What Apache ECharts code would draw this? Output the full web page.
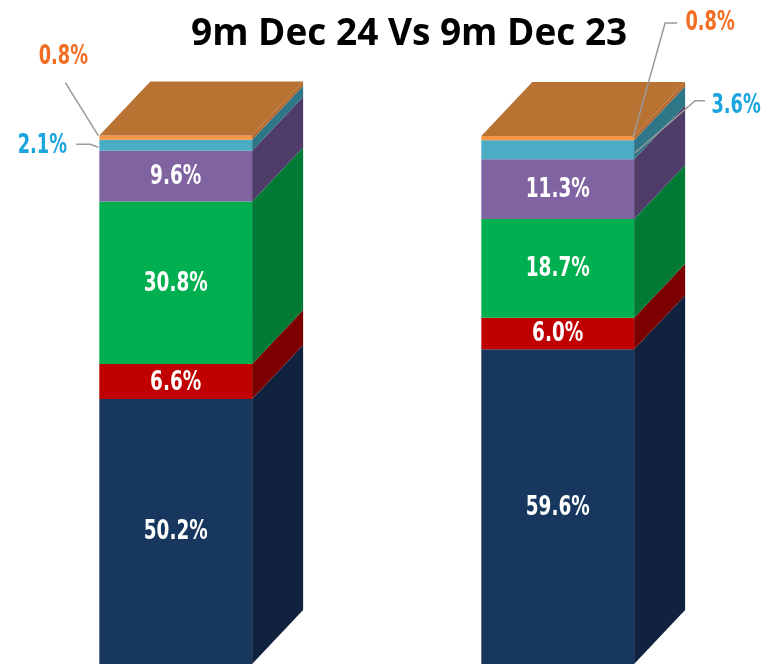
<!DOCTYPE html>
<html>
<head>
<meta charset="utf-8">
<script src="https://cdn.jsdelivr.net/npm/echarts@6/dist/echarts.min.js"></script>
<style>
  html, body { margin: 0; padding: 0; background: #fff; }
  #chart { width: 764px; height: 664px; }
</style>
</head>
<body>
<div id="chart"></div>
<script>
// periods shown as the two stacked columns
const categories = ['9m Dec 24', '9m Dec 23']

// share of each layer (%), bottom to top
const navyShare = [50.2, 59.6]
const redShare = [6.6, 6.0]
const greenShare = [30.8, 18.7]
const purpleShare = [9.6, 11.3]
const cyanShare = [2.1, 3.6]
const orangeShare = [0.8, 0.8]

// 3D look: depth offset of the side/top faces in px
const DX = 51
const DY = -54
const BAR_RATIO = 0.4
const TEXT_SQUEEZE = 0.76

const labelFont = "'Liberation Sans Narrow', 'DejaVu Sans Condensed', 'DejaVu Sans', sans-serif"

// small callout labels (offsets from the bar edge, at the middle of the layer)
const callouts = {
  cyan: [
    { edge: 'left', text: [-57, 1], line: [[-23, -1], [-9, -1], [-1, 2]] },
    { edge: 'right', text: [102, -43], line: [[71, -49], [61, -49], [1, 3]] }
  ],
  orange: [
    { edge: 'left', text: [-36, -80], line: [[-34, -55], [-1, -2]] },
    { edge: 'right', text: [76, -115], line: [[43, -115], [31, -115], [-1, -1]] }
  ]
}

const segments = [
  { name: 'Navy', values: navyShare, front: '#17375E', side: '#10223D' },
  { name: 'Red', values: redShare, front: '#C00000', side: '#7C0000' },
  { name: 'Green', values: greenShare, front: '#00B050', side: '#007A35' },
  { name: 'Purple', values: purpleShare, front: '#8064A2', side: '#4F3C69' },
  { name: 'Cyan', values: cyanShare, front: '#4BACC6', side: '#2F7689', callout: callouts.cyan, color: '#1AA5DF' },
  { name: 'Orange', values: orangeShare, front: '#F79646', side: '#B5692E', top: '#B87333', callout: callouts.orange, color: '#F26D21' }
]

// running base of each layer
const bases = categories.map(() => 0)
const seriesData = segments.map(seg => {
  return seg.values.map((v, i) => {
    const start = bases[i]
    bases[i] += v
    return [i, start, bases[i], v]
  })
})

// condensed-looking label: text squeezed horizontally around its anchor
const squeezedText = (text, x, y, color, size) => ({
  type: 'text',
  x: x,
  y: y,
  scaleX: TEXT_SQUEEZE,
  style: {
    text: text,
    x: 0,
    y: 0,
    fill: color,
    fontSize: size,
    fontWeight: 'bold',
    fontFamily: labelFont,
    align: 'center',
    verticalAlign: 'middle'
  }
})

const makeRender = (seg, isTop) => (params, api) => {
  const cat = api.value(0)
  const p0 = api.coord([cat, api.value(1)])
  const p1 = api.coord([cat, api.value(2)])
  const w = api.size([1, 0])[0] * BAR_RATIO
  const xL = p0[0] - w / 2
  const xR = p0[0] + w / 2
  const yB = p0[1]
  const yT = p1[1]
  const mid = (yB + yT) / 2
  const children = [
    {
      type: 'rect',
      shape: { x: xL, y: yT, width: w, height: yB - yT },
      style: { fill: seg.front }
    },
    {
      type: 'polygon',
      shape: { points: [[xR, yB], [xR + DX, yB + DY], [xR + DX, yT + DY], [xR, yT]] },
      style: { fill: seg.side }
    }
  ]
  if (isTop) {
    children.push({
      type: 'polygon',
      shape: { points: [[xL, yT], [xL + DX, yT + DY], [xR + DX, yT + DY], [xR, yT]] },
      style: { fill: seg.top }
    })
  }
  const text = api.value(3).toFixed(1) + '%'
  if (!seg.callout) {
    children.push(squeezedText(text, p0[0], mid + 1, '#fff', 27))
  } else {
    const c = seg.callout[params.dataIndex]
    const ax = c.edge === 'left' ? xL : xR
    children.push({
      type: 'polyline',
      shape: { points: c.line.map(pt => [ax + pt[0], mid + pt[1]]) },
      style: { stroke: '#9A9A9A', lineWidth: 1.5, fill: null }
    })
    children.push(squeezedText(text, ax + c.text[0], mid + c.text[1], seg.color, 26))
  }
  return { type: 'group', children: children }
}

const chart = echarts.init(document.getElementById('chart'))

// x positions: category i sits at value i; the range puts the two columns where they are in the slide
const xMin = -0.46
const xMax = 1.54

chart.setOption({
  animation: false,
  backgroundColor: '#fff',
  title: {
    text: '9m Dec 24 Vs 9m Dec 23',
    left: 186,
    top: 11,
    textStyle: {
      fontFamily: "'Open Sans', sans-serif",
      fontSize: 37,
      fontWeight: 'bold',
      color: '#000'
    }
  },
  grid: { left: 0, right: 0, top: 136, bottom: 0 },
  xAxis: { type: 'value', min: xMin, max: xMax, show: false },
  yAxis: { type: 'value', min: 0, max: 100, show: false },
  series: segments.map((seg, k) => ({
    name: seg.name,
    type: 'custom',
    clip: false,
    renderItem: makeRender(seg, k === segments.length - 1),
    encode: { x: 0, y: 2 },
    data: seriesData[k]
  }))
})
</script>
</body>
</html>
